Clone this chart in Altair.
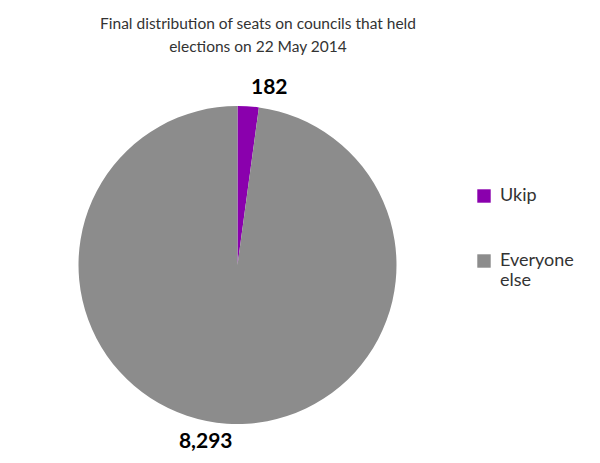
import altair as alt
import pandas as pd

categories = ["Ukip", "Everyone else"]
seats = [182, 8293]
labels = ["182", "8,293"]
colors = ["#8a00ad", "#8c8c8c"]

df = pd.DataFrame({"group": categories, "seats": seats, "label": labels, "order": [0, 1]})

FONT = "Lato"
cx, cy, R = 229.5, 202, 159

base = alt.Chart(df).encode(
    theta=alt.Theta("seats:Q", stack=True),
    order=alt.Order("order:Q"),
)

pie = base.mark_arc(radius=R, stroke=None).encode(
    x=alt.value(cx), y=alt.value(cy),
    color=alt.Color(
        "group:N",
        scale=alt.Scale(domain=categories, range=colors),
        sort=categories,
        legend=alt.Legend(
            title=None, orient="none", legendX=467, legendY=124,
            symbolType="square", symbolSize=180, symbolStrokeWidth=0,
            labelFont=FONT, labelFontSize=18, labelColor="#333333",
            rowPadding=47, labelOffset=7,
            labelExpr="datum.label == 'Everyone else' ? ['Everyone', 'else'] : datum.label",
        ),
    ),
)

text = base.mark_text(radius=180, thetaOffset=0.11, font=FONT, fontSize=21,
                      fontWeight="bold", color="#000000", baseline="middle").encode(
    x=alt.value(cx), y=alt.value(cy),
    text="label:N",
)

chart = alt.layer(pie, text).properties(
    width=500, height=392,
    padding={"left": 0, "top": 55, "right": 76, "bottom": 0},
    autosize=alt.AutoSizeParams(type="none"),
    title=alt.TitleParams(
        ["Final distribution of seats on councils that held", "elections on 22 May 2014"],
        font=FONT, fontSize=15.5, fontWeight="normal", color="#333333",
        anchor="middle", lineHeight=23, offset=8,
    ),
).configure_view(stroke=None)

chart.save("out.html", embed_options={"renderer": "svg", "actions": False})
